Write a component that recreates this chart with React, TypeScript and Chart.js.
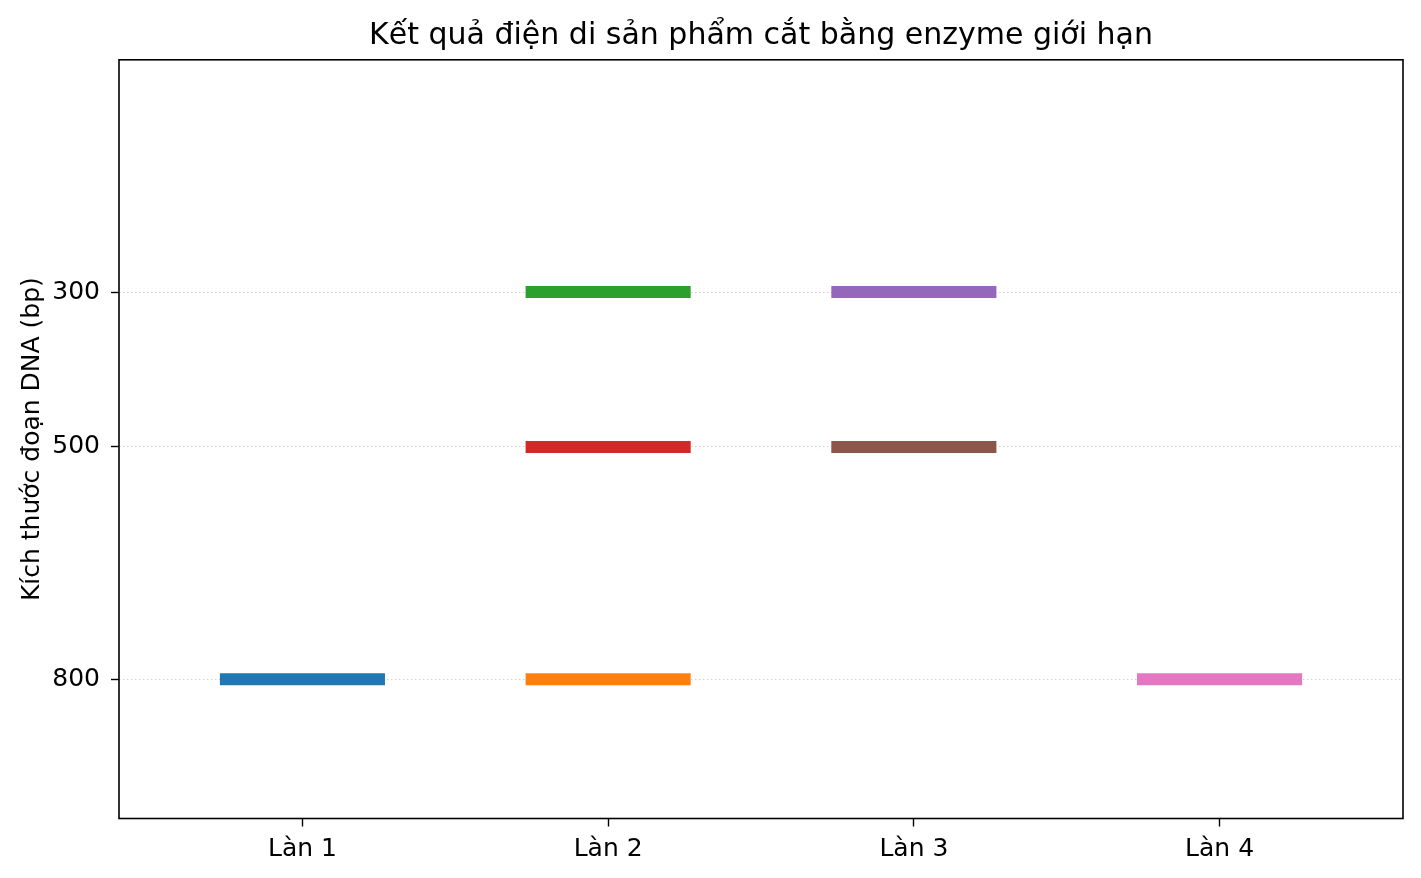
import React, { useEffect, useRef } from "react";
import { Chart, registerables } from "chart.js";

Chart.register(...registerables);

const laneLabels = ["Làn 1", "Làn 2", "Làn 3", "Làn 4"];
const bandLane = [0, 1, 1, 1, 2, 2, 3];
const bandSize = [800, 800, 300, 500, 300, 500, 800];
const bandColors = ["#1f77b4", "#ff7f0e", "#2ca02c", "#d62728", "#9467bd", "#8c564b", "#e377c2"];
const yTickValues = [300, 500, 800];
const titleText = "Kết quả điện di sản phẩm cắt bằng enzyme giới hạn";
const yAxisTitle = "Kích thước đoạn DNA (bp)";

const BAND_HALF = 0.27;
const FONT = "'DejaVu Sans', sans-serif";

const framePlugin = {
  id: "frame",
  afterDatasetsDraw(chart: any) {
    const { ctx, chartArea } = chart;
    ctx.save();
    ctx.strokeStyle = "#000";
    ctx.lineWidth = 1.6;
    ctx.strokeRect(chartArea.left, chartArea.top, chartArea.right - chartArea.left, chartArea.bottom - chartArea.top);
    ctx.restore();
  },
};

export default function App() {
  const canvasRef = useRef<HTMLCanvasElement | null>(null);

  useEffect(() => {
    document.body.style.margin = "0";
    const canvas = canvasRef.current;
    if (!canvas) return;
    const datasets = bandSize.map((size, i) => ({
      label: laneLabels[bandLane[i]] + " " + size,
      data: [
        { x: bandLane[i] - BAND_HALF, y: size },
        { x: bandLane[i] + BAND_HALF, y: size },
      ],
      borderColor: bandColors[i],
      backgroundColor: bandColors[i],
      borderWidth: 12,
      borderCapStyle: "butt" as const,
      pointRadius: 0,
      fill: false,
    }));
    const chart = new Chart(canvas, {
      type: "line",
      data: { datasets },
      options: {
        animation: false,
        responsive: false,
        maintainAspectRatio: false,
        devicePixelRatio: 1,
        layout: { padding: { left: 0, right: 18, top: 0, bottom: 0 } },
        plugins: {
          legend: { display: false },
          tooltip: { enabled: false },
          title: {
            display: true,
            text: titleText,
            fullSize: false,
            color: "#000",
            font: { family: FONT, size: 30, weight: "normal", lineHeight: 1.2 },
            padding: { top: 18, bottom: 5.8 },
          },
        },
        scales: {
          x: {
            type: "linear",
            min: -0.6,
            max: 3.6,
            afterBuildTicks: (scale: any) => {
              scale.ticks = laneLabels.map((_, i) => ({ value: i }));
            },
            afterFit: (scale: any) => {
              scale.height = 59.5;
            },
            ticks: {
              color: "#000",
              font: { family: FONT, size: 25 },
              padding: 8,
              maxRotation: 0,
              autoSkip: false,
              callback: (v: any) => laneLabels[Math.round(Number(v))] ?? "",
            },
            grid: {
              drawOnChartArea: false,
              drawTicks: true,
              tickLength: 8,
              tickColor: "#000",
              tickWidth: 1.4,
            },
            border: { display: false },
          },
          y: {
            type: "linear",
            reverse: true,
            min: 0,
            max: 980,
            afterBuildTicks: (scale: any) => {
              scale.ticks = yTickValues.map((v) => ({ value: v }));
            },
            afterFit: (scale: any) => {
              scale.width = 119;
            },
            ticks: {
              color: "#000",
              font: { family: FONT, size: 25 },
              padding: 11,
              autoSkip: false,
              callback: (v: any) => String(v),
            },
            grid: {
              color: "#d0d0d0",
              lineWidth: 1,
              drawTicks: true,
              tickLength: 8,
              tickColor: "#000",
              tickWidth: 1.4,
              tickBorderDash: [],
            },
            border: { display: false, dash: [1.5, 2.5] },
            title: {
              display: true,
              text: yAxisTitle,
              color: "#000",
              font: { family: FONT, size: 25 },
              padding: { top: 17.4, bottom: 0 },
            },
          },
        },
      },
      plugins: [framePlugin],
    });
    return () => chart.destroy();
  }, []);

  return (
    <div style={{ width: 1421, height: 878, background: "#fff" }}>
      <canvas ref={canvasRef} width={1421} height={878} style={{ display: "block", width: 1421, height: 878 }} />
    </div>
  );
}
